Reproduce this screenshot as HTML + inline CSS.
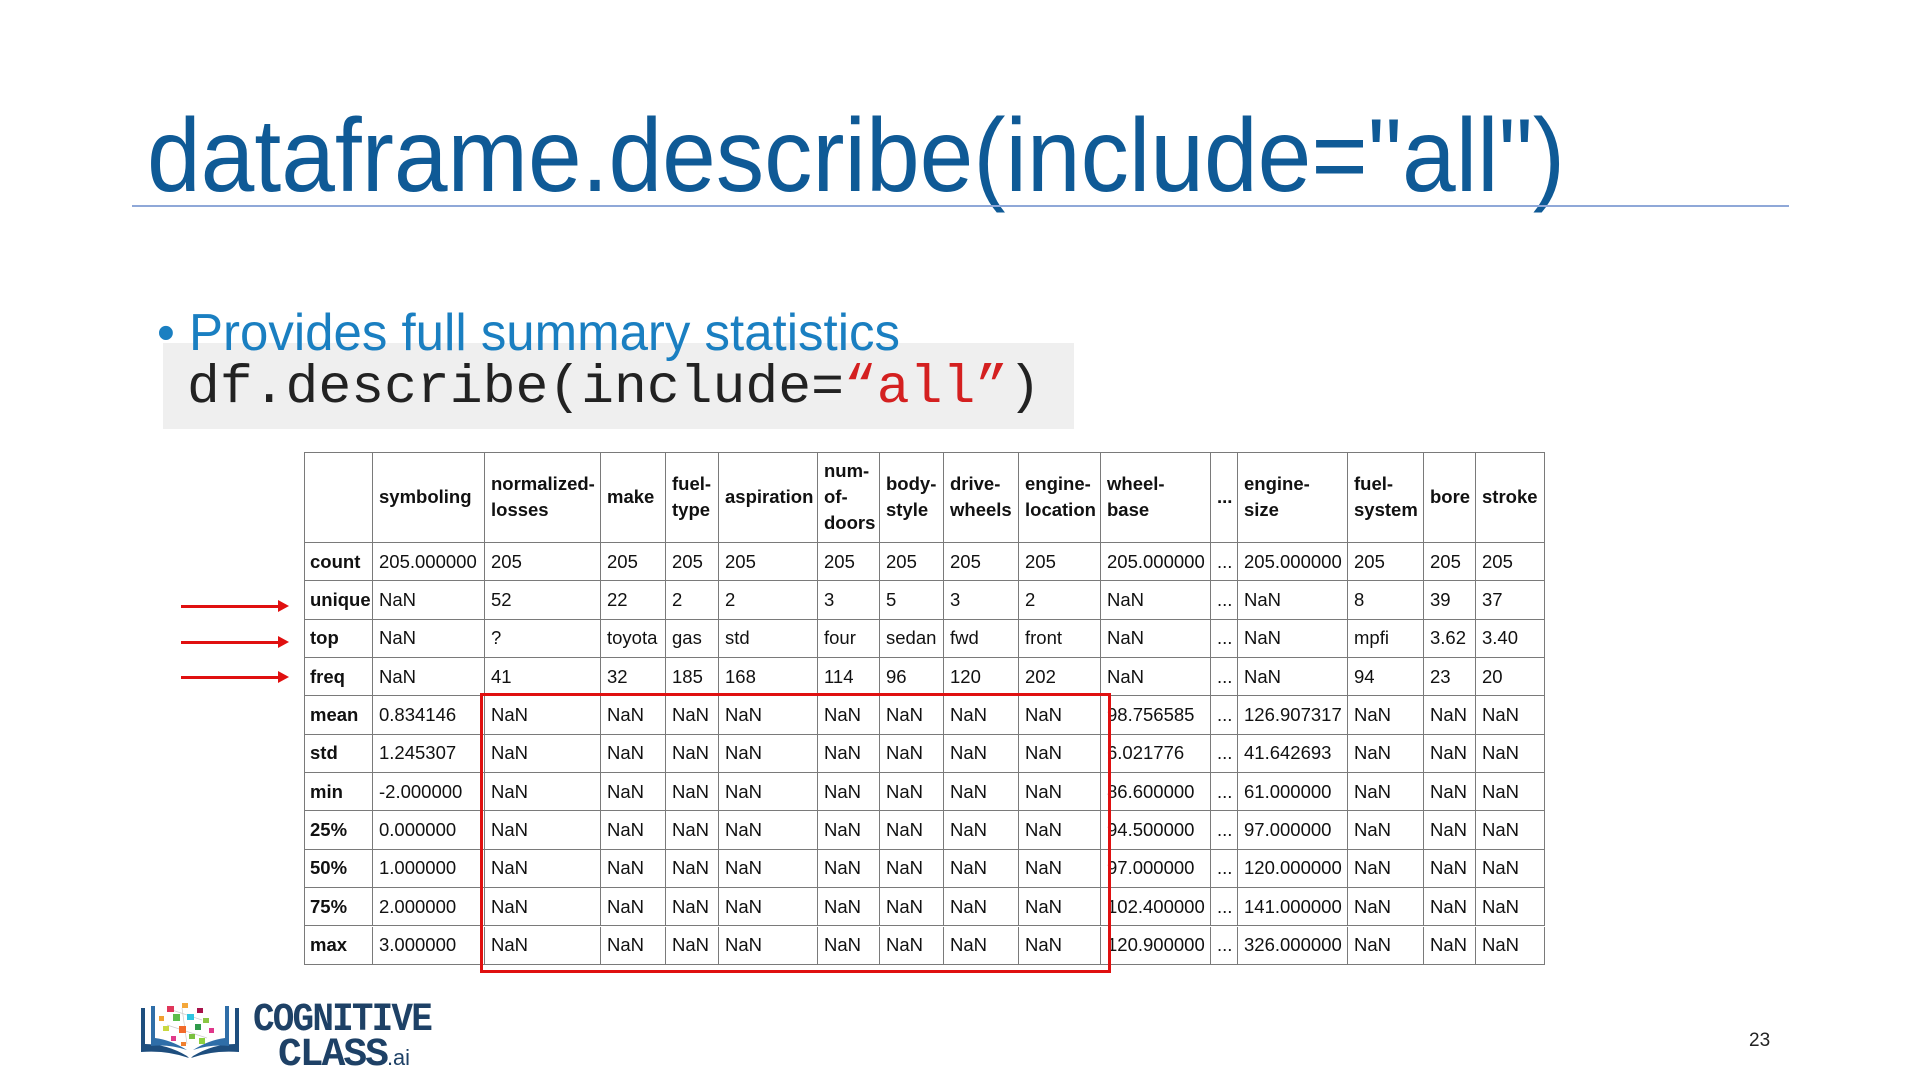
<!DOCTYPE html>
<html><head><meta charset="utf-8">
<style>
html,body{margin:0;padding:0}
body{width:1920px;height:1090px;position:relative;background:#fff;overflow:hidden;font-family:"Liberation Sans",Arial,sans-serif}
.abs{position:absolute}
#title{left:147px;top:104px;font-size:104px;color:#0f5a96;white-space:nowrap;transform-origin:0 0;line-height:1}
#title-rule{left:132px;top:205px;width:1657px;height:2px;background:#8fa8d8}
#bullet{left:157px;top:307px;font-size:52px;color:#1a7fc1;white-space:nowrap;transform-origin:0 0;line-height:1;z-index:2}
#codebox{left:163px;top:343px;width:911px;height:86px;background:#efefef}
#code{left:187px;top:362px;font-family:"Liberation Mono",monospace;font-size:54px;color:#222;white-space:nowrap;line-height:1;transform-origin:0 0}
#code .r{color:#d42020}
.cell{position:absolute;box-sizing:border-box;border-right:1.5px solid #7a7a7a;border-bottom:1.5px solid #7a7a7a;font-size:18.5px;color:#111;padding-left:6px;display:flex;align-items:center;white-space:nowrap;line-height:26px}
.hd{font-weight:bold}
#redbox{left:480px;top:693px;width:631px;height:280px;box-sizing:border-box;border:3px solid #e01010}
.arrow{position:absolute;left:181px;width:98px;height:3px;background:#e01010}
.arrow:after{content:"";position:absolute;right:-10px;top:-5px;border-left:11px solid #e01010;border-top:6.5px solid transparent;border-bottom:6.5px solid transparent}
#pagenum{left:1749px;top:1030px;font-size:19px;color:#222}
#logo-text1{left:253px;top:1001px;font-size:40px;font-weight:bold;color:#1e4166;font-family:"Liberation Mono",monospace;letter-spacing:-2px;line-height:1;transform-origin:0 0}
#logo-text2{left:278px;top:1036px;font-size:40px;font-weight:bold;color:#1e4166;font-family:"Liberation Mono",monospace;letter-spacing:-2px;line-height:1;transform-origin:0 0}
#logo-text2 small{font-family:"Liberation Sans",sans-serif;font-size:22px;letter-spacing:0;font-weight:normal}
</style></head>
<body>
<div id="title" class="abs">dataframe.describe(include="all")</div>
<div id="title-rule" class="abs"></div>
<div id="codebox" class="abs"></div>
<div id="bullet" class="abs">• Provides full summary statistics</div>
<div id="code" class="abs">df.describe(include=<span class="r">“all”</span>)</div>
<div id="table" class="abs" style="left:0;top:0"></div>
<div id="redbox" class="abs"></div>
<div class="arrow" style="top:605px"></div>
<div class="arrow" style="top:641px"></div>
<div class="arrow" style="top:676px"></div>
<svg class="abs" style="left:137px;top:1000px" width="106" height="60">
<path d="M4 8 L8 8 L8 44 Q30 44 50 56 L52 58 Q30 50 4 52 Z" fill="#1e4e7e"/>
<path d="M102 8 L98 8 L98 44 Q76 44 56 56 L54 58 Q76 50 102 52 Z" fill="#1e4e7e"/>
<path d="M14 6 L18 6 L18 38 Q34 40 50 50 Q32 44 14 46Z" fill="#2f6ea8"/>
<path d="M92 6 L88 6 L88 38 Q72 40 56 50 Q74 44 92 46Z" fill="#2f6ea8"/>
<g stroke="#ccc" stroke-width="0.7"><line x1="35" y1="10" x2="65" y2="20"/><line x1="30" y1="25" x2="70" y2="38"/><line x1="45" y1="8" x2="50" y2="44"/></g>
<rect x="30" y="6" width="7" height="6" fill="#e0365a"/><rect x="45" y="3" width="6" height="5" fill="#f4a73a"/><rect x="60" y="8" width="6" height="5" fill="#a8124a"/>
<rect x="22" y="16" width="5" height="5" fill="#f0a030"/><rect x="36" y="14" width="7" height="7" fill="#5cbe4a"/><rect x="50" y="14" width="7" height="6" fill="#2ec4e0"/><rect x="66" y="18" width="6" height="5" fill="#8ac642"/>
<rect x="26" y="26" width="6" height="5" fill="#c9d840"/><rect x="42" y="26" width="7" height="7" fill="#f26a2a"/><rect x="58" y="24" width="6" height="6" fill="#2e9a4a"/><rect x="72" y="28" width="5" height="5" fill="#e0368a"/>
<rect x="34" y="36" width="5" height="5" fill="#e03a8a"/><rect x="52" y="34" width="6" height="5" fill="#7ac040"/><rect x="62" y="38" width="6" height="6" fill="#8cd040"/><rect x="44" y="42" width="5" height="4" fill="#f08030"/>
</svg>
<div id="logo-text1" class="abs">COGNITIVE</div>
<div id="logo-text2" class="abs">CLASS<small>.ai</small></div>
<div id="pagenum" class="abs">23</div>
<script>
const columns = ["", "symboling", "normalized-<br>losses", "make", "fuel-<br>type", "aspiration", "num-<br>of-<br>doors", "body-<br>style", "drive-<br>wheels", "engine-<br>location", "wheel-<br>base", "...", "engine-<br>size", "fuel-<br>system", "bore", "stroke"];
const rowLabels = ["count","unique","top","freq","mean","std","min","25%","50%","75%","max"];
const rowCount = ["205.000000","205","205","205","205","205","205","205","205","205.000000","...","205.000000","205","205","205"];
const rowUnique = ["NaN","52","22","2","2","3","5","3","2","NaN","...","NaN","8","39","37"];
const rowTop = ["NaN","?","toyota","gas","std","four","sedan","fwd","front","NaN","...","NaN","mpfi","3.62","3.40"];
const rowFreq = ["NaN","41","32","185","168","114","96","120","202","NaN","...","NaN","94","23","20"];
const rowMean = ["0.834146","NaN","NaN","NaN","NaN","NaN","NaN","NaN","NaN","98.756585","...","126.907317","NaN","NaN","NaN"];
const rowStd = ["1.245307","NaN","NaN","NaN","NaN","NaN","NaN","NaN","NaN","6.021776","...","41.642693","NaN","NaN","NaN"];
const rowMin = ["-2.000000","NaN","NaN","NaN","NaN","NaN","NaN","NaN","NaN","86.600000","...","61.000000","NaN","NaN","NaN"];
const row25 = ["0.000000","NaN","NaN","NaN","NaN","NaN","NaN","NaN","NaN","94.500000","...","97.000000","NaN","NaN","NaN"];
const row50 = ["1.000000","NaN","NaN","NaN","NaN","NaN","NaN","NaN","NaN","97.000000","...","120.000000","NaN","NaN","NaN"];
const row75 = ["2.000000","NaN","NaN","NaN","NaN","NaN","NaN","NaN","NaN","102.400000","...","141.000000","NaN","NaN","NaN"];
const rowMax = ["3.000000","NaN","NaN","NaN","NaN","NaN","NaN","NaN","NaN","120.900000","...","326.000000","NaN","NaN","NaN"];
const rowsData = [rowCount,rowUnique,rowTop,rowFreq,rowMean,rowStd,rowMin,row25,row50,row75,rowMax];

const colEdges = [304,373,485,601,666,719,818,880,944,1019,1101,1211,1238,1348,1424,1476,1545];
const tableTop = 452, headerBottom = 543, rowH = 38.35;
const table = document.getElementById('table');
function addCell(x0,x1,y0,y1,html,bold,name){
  const d=document.createElement('div');
  d.className='cell'+(bold?' hd':'');
  d.style.left=x0+'px';d.style.top=y0+'px';d.style.width=(x1-x0)+'px';d.style.height=(y1-y0)+'px';
  d.innerHTML=html;
  
  
  table.appendChild(d);
  return d;
}
const tb=document.createElement('div');
tb.style.cssText='position:absolute;left:'+colEdges[0]+'px;top:'+tableTop+'px;width:'+(colEdges[colEdges.length-1]-colEdges[0])+'px;height:'+(headerBottom+rowH*rowLabels.length-tableTop)+'px;border-top:1.5px solid #7a7a7a;border-left:1.5px solid #7a7a7a;box-sizing:border-box';


table.appendChild(tb);
columns.forEach((c,i)=>{
  addCell(colEdges[i],colEdges[i+1],tableTop,headerBottom,'<div>'+c+'</div>',true,'header-cell');
});
rowLabels.forEach((lab,r)=>{
  const y0=headerBottom+r*rowH, y1=y0+rowH;
  addCell(colEdges[0],colEdges[1],y0,y1,lab,true,'row-label');
  rowsData[r].forEach((v,i)=>{
    addCell(colEdges[i+1],colEdges[i+2],y0,y1,v,false,'data-cell');
  });
});
function fit(id,w){const e=document.getElementById(id);const r=e.getBoundingClientRect().width;e.style.transform='scaleX('+(w/r)+')';}
fit('title',1418);
fit('bullet',743);
fit('code',854);
fit('logo-text1',178);
fit('logo-text2',132);
</script>
</body></html>
